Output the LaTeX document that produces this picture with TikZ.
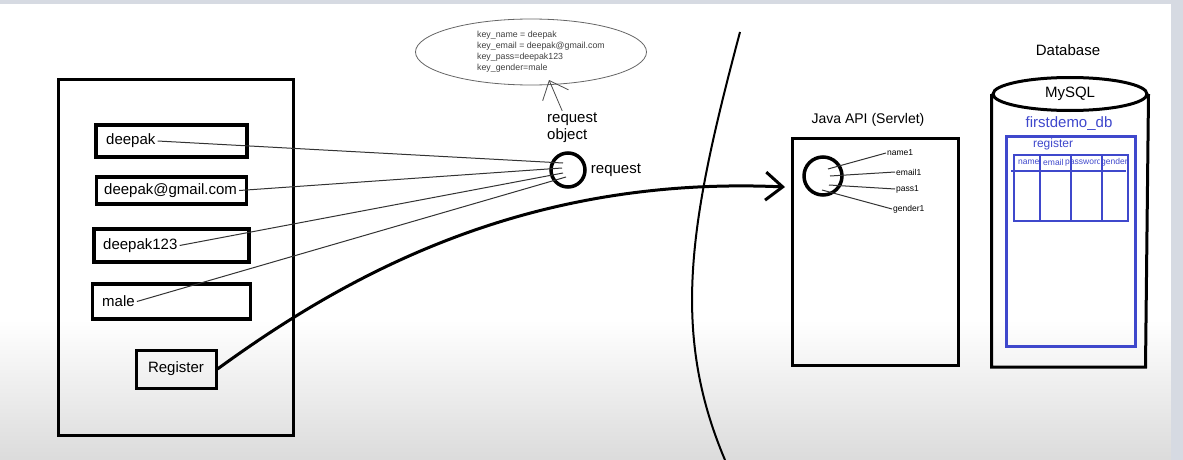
\documentclass[tikz,border=0pt]{standalone}
\usepackage{fontspec}
\setmainfont{Liberation Sans}
\usetikzlibrary{calc, arrows.meta, shapes.geometric}
\definecolor{bleupaint}{RGB}{63,72,204}
\definecolor{bordgris}{RGB}{214,218,226}

\begin{document}
\begin{tikzpicture}[x=1pt, y=-1pt,
    boite/.style={draw, line width=3pt, inner sep=0pt},
    champ/.style={boite, line width=3.5pt, fill=white},
    texte/.style={font=\fontsize{15}{17}\selectfont, inner sep=2pt},
    petit/.style={font=\fontsize{8.5}{11}\selectfont, inner sep=1pt},
    fil/.style={draw=black!80, line width=1pt},
    rond/.style={circle, draw, line width=3.5pt, inner sep=0pt}]
  \useasboundingbox (0,0) rectangle (1183,460);

  % Fond
  \fill[white] (0,0) rectangle (1183,460);
  \shade[top color=white, bottom color=black!14] (0,320) rectangle (1183,460);
  \fill[bordgris] (0,0) rectangle (1183,4);
  \fill[bordgris] (1171,0) rectangle (1183,460);

  % Formulaire
  \node[boite, minimum width=235pt, minimum height=356pt] (formulaire) at (175.5,257) {};
  \foreach \i/\texte/\y/\w/\h/\tx in {1/deepak/141/151/32/104, 2/deepak@gmail.com/190.5/150/27/102, 3/deepak123/245.5/155/33/101, 4/male/301.5/158/35/100} {
    \node[champ, minimum width=\w pt, minimum height=\h pt] (champ\i) at (171.5,\y) {};
    \node[texte, anchor=west] (saisie\i) at (\tx,\y) {\texte};
  }
  \node[boite, texte, minimum width=80pt, minimum height=38pt] (bouton) at (176,369) {Register};

  % Objet requete
  \node[rond, minimum size=34pt] (requete) at (568,170) {};
  \node[texte, anchor=west] (etiquette) at ([xshift=2pt]requete.east) {request};
  \node[texte, anchor=west, align=left] (objet) at (545,128) {request\\object};
  \foreach \i/\dx/\dy in {1/-5/-7, 2/-6/-2, 3/-5/3, 4/-2/7}
    \draw[fil] (saisie\i.east) -- ($(requete.center)+(\dx,\dy)$);

  % Contenu de la requete
  \node[ellipse, draw=black!60, line width=0.8pt, minimum width=231pt, minimum height=66pt] (cles) at (531,52) {};
  \node[petit, font=\fontsize{8.8}{11}\selectfont, anchor=west, align=left, text=black!75] (clestexte) at (476,52)
    {key\_name = deepak\\key\_email = deepak@gmail.com\\key\_pass=deepak123\\key\_gender=male};
  \coordinate (pointecles) at (549,80);
  \draw[black!70, line width=0.8pt, -{Straight Barb[length=16pt, width=28pt]}] ([xshift=-10pt]objet.north) -- (pointecles);

  % Envoi
  \coordinate (entree) at (785,187);
  \draw[line width=3pt, -{Straight Barb[length=17pt, width=28pt]}] (bouton.east) .. controls (340,280) and (520,175) .. (entree);

  % Frontiere
  \draw[line width=2pt] (740,32) .. controls (690,220) and (670,330) .. (725,460);

  % Servlet
  \node[texte, font=\fontsize{14}{16}\selectfont] (titreservlet) at (868,120) {Java API (Servlet)};
  \node[boite, minimum width=166pt, minimum height=227pt] (servlet) at (875,251.5) {};
  \node[rond, minimum size=38pt] (recu) at (823,176) {};
  \foreach \nom/\dx/\dy/\lx/\ly in {name1/5/-7/886/153, email1/7/0/895/172, pass1/6/9/895/189, gender1/-1/14/892/209} {
    \node[petit, anchor=west] (\nom) at (\lx,\ly) {\nom};
    \draw[fil] ($(recu.center)+(\dx,\dy)$) -- (\nom.west);
  }

  % Base de donnees
  \node[texte] (titrebase) at (1068,50) {Database};
  \node[ellipse, draw, line width=3pt, fill=white, texte, inner sep=0pt, minimum width=154pt, minimum height=33pt] (mysql) at (1070,94) {MySQL};
  \draw[line width=3pt] (mysql.west) -- ++(0,273) -- ++(154,0) -- (mysql.east);
  \node[texte, text=bleupaint] (nombase) at (1069,124) {firstdemo\_db};
  \node[draw=bleupaint, line width=3pt, minimum width=129pt, minimum height=210pt] (schema) at (1070.5,241) {};
  \node[font=\fontsize{12}{14}\selectfont, text=bleupaint, inner sep=1pt] (nomtable) at (1053,144) {register};

  % Table
  \begin{scope}
    \clip (1014,155) rectangle (1127,221);
    \foreach \nom/\x in {name/1017, email/1042, password/1064}
      \node[petit, anchor=west, text=bleupaint] (col\nom) at (\x,162) {\nom};
    \node[petit, anchor=west, fill=white, text=bleupaint] (colgender) at (1100,162) {gender};
  \end{scope}
  \node[draw=bleupaint, line width=2pt, minimum width=114pt, minimum height=66pt] (table) at (1071,188) {};
  \draw[bleupaint, line width=2pt] ($(table.north west)+(-2,17)$) -- ($(table.north east)+(-3,17)$);
  \foreach \x in {1040,1071,1102}
    \draw[bleupaint, line width=2pt] (\x,155) -- (\x,221);
\end{tikzpicture}
\end{document}
